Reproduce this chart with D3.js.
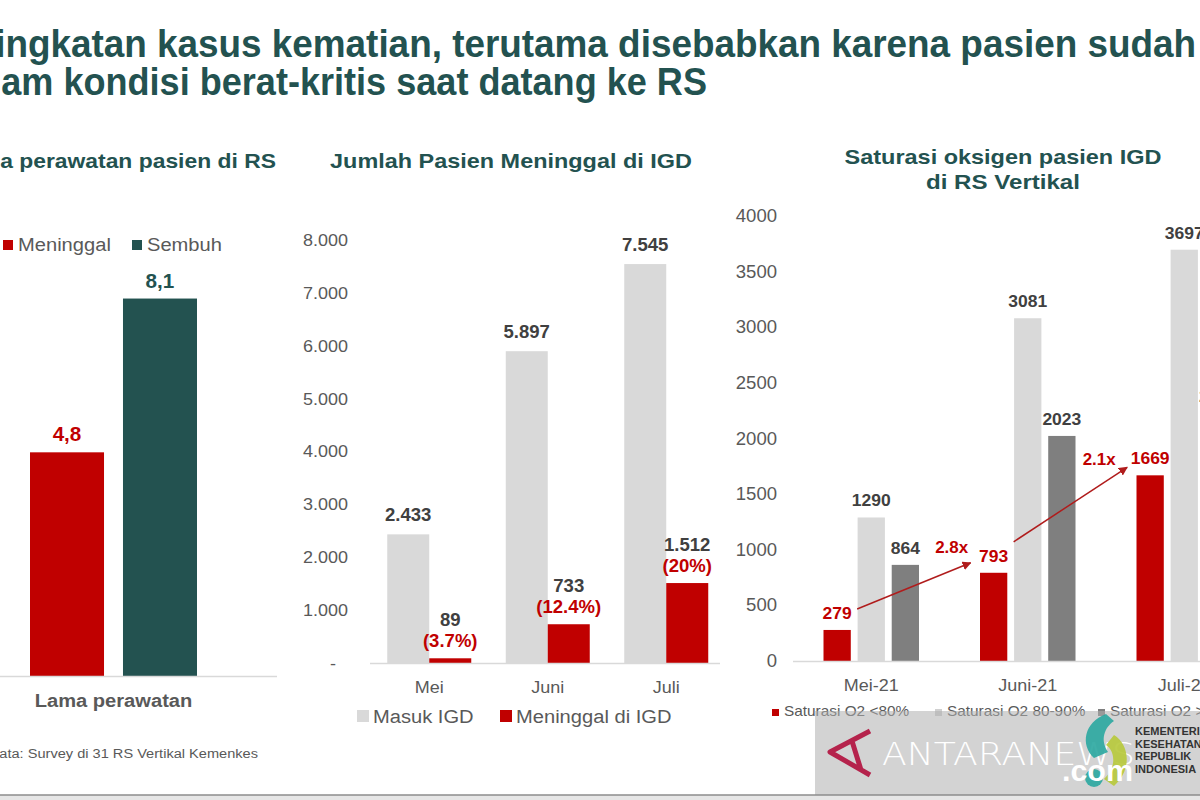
<!DOCTYPE html>
<html><head><meta charset="utf-8">
<script src="https://cdn.jsdelivr.net/npm/d3@7"></script>
<style>
html,body{margin:0;padding:0;background:#fff;}
svg{display:block;font-family:"Liberation Sans",Arial,sans-serif;}
</style></head>
<body>
<svg id="c" width="1200" height="800"></svg>
<script>
// ---------- DATA ----------
const titleLines = ["Peningkatan kasus kematian, terutama disebabkan karena pasien sudah", "dalam kondisi berat-kritis saat datang ke RS"];

const lamaTitle = "Lama perawatan pasien di RS";
const lamaSeries = ["Meninggal", "Sembuh"];
const lamaValues = [4.8, 8.1];
const lamaLabels = ["4,8", "8,1"];
const lamaCategory = "Lama perawatan";

const igdTitle = "Jumlah Pasien Meninggal di IGD";
const igdMonths = ["Mei", "Juni", "Juli"];
const igdSeries = ["Masuk IGD", "Meninggal di IGD"];
const masukIGD = [2433, 5897, 7545];
const meninggalIGD = [89, 733, 1512];
const meninggalPct = ["(3.7%)", "(12.4%)", "(20%)"];
const igdTicks = [0, 1000, 2000, 3000, 4000, 5000, 6000, 7000, 8000];

const satTitle = ["Saturasi oksigen pasien IGD", "di RS Vertikal"];
const satMonths = ["Mei-21", "Juni-21", "Juli-21"];
const satSeries = ["Saturasi O2 <80%", "Saturasi O2 80-90%", "Saturasi O2 >90%"];
const satLow = [279, 793, 1669];
const satMid = [1290, 3081, 3697];
const satHigh = [864, 2023, 2229];
const satTicks = [0, 500, 1000, 1500, 2000, 2500, 3000, 3500, 4000];
const growthLabels = ["2.8x", "2.1x"];

const sourceText = "Sumber data: Survey di 31 RS Vertikal Kemenkes";

// ---------- STYLE ----------
const RED = "#C00000", TEAL = "#235250", LGRAY = "#D9D9D9", DGRAY = "#7F7F7F";
const TXT = "#404040", AX = "#595959", ARROW = "#B01C1C";
const svg = d3.select("#c");
const idLocale = d3.formatLocale({decimal: ",", thousands: ".", grouping: [3], currency: ["", ""]});
const fmtDot = idLocale.format(",");

// horizontal stretch helpers (fit a text's visible part to the width it has in the reference)
function stretchEl(el, k) {
  const t = d3.select(el);
  const x = +t.attr("x") || 0;
  t.attr("transform", `translate(${x * (1 - k)},0) scale(${k},1)`);
}
function fitSub(sel, sub, target) {
  sel.classed("fit", true);
  const el = sel.node();
  const full = sel.text();
  sel.text(sub);
  const w = el.getComputedTextLength();
  sel.text(full);
  stretchEl(el, target / w);
}

// ---------- MAIN TITLE ----------
const t1 = svg.append("text").attr("x", 1196).attr("y", 57).attr("text-anchor", "end")
  .attr("font-weight", "bold").attr("font-size", 38).attr("fill", TEAL).text(titleLines[0]);
fitSub(t1, titleLines[0].slice(3), 1201);
const t2 = svg.append("text").attr("x", 707).attr("y", 95).attr("text-anchor", "end")
  .attr("font-weight", "bold").attr("font-size", 38).attr("fill", TEAL).text(titleLines[1]);
fitSub(t2, titleLines[1].slice(2), 716);

// ---------- PANEL 1 ----------
{
  const g = svg.append("g");
  const tt = g.append("text").attr("x", 276).attr("y", 168).attr("text-anchor", "end")
    .attr("font-weight", "bold").attr("font-size", 19.5).attr("fill", TEAL).text(lamaTitle);
  fitSub(tt, lamaTitle.slice(3), 276);
  const y = d3.scaleLinear().domain([0, 10]).range([676, 210]);
  const x = d3.scaleBand().domain(lamaSeries).range([30, 197]).paddingInner(0.204).paddingOuter(0);
  const col = d3.scaleOrdinal().domain(lamaSeries).range([RED, TEAL]);
  g.selectAll("rect.bar").data(lamaSeries).join("rect").attr("class", "bar")
    .attr("x", d => x(d)).attr("width", x.bandwidth())
    .attr("y", (d, i) => y(lamaValues[i])).attr("height", (d, i) => y(0) - y(lamaValues[i]))
    .attr("fill", d => col(d));
  g.selectAll("text.val").data(lamaSeries).join("text").attr("class", "val")
    .attr("x", d => x(d) + x.bandwidth() / 2).attr("y", (d, i) => y(lamaValues[i]) - 11)
    .attr("text-anchor", "middle").attr("font-weight", "bold").attr("font-size", 19.5)
    .attr("fill", d => col(d)).text((d, i) => lamaLabels[i]);
  g.append("line").attr("x1", 0).attr("x2", 277).attr("y1", y(0) + 0.5).attr("y2", y(0) + 0.5)
    .attr("stroke", LGRAY).attr("stroke-width", 1.5);
  g.append("text").attr("x", (x.range()[0] + x.range()[1]) / 2).attr("y", 707).attr("text-anchor", "middle")
    .attr("font-weight", "bold").attr("font-size", 19).attr("fill", AX).text(lamaCategory);
  // legend
  const lx = [3, 132];
  lamaSeries.forEach((s, i) => {
    g.append("rect").attr("x", lx[i]).attr("y", 240).attr("width", 10).attr("height", 10).attr("fill", col(s));
    g.append("text").attr("x", lx[i] + 15).attr("y", 251).attr("font-size", 19).attr("fill", AX).text(s);
  });
  const src = g.append("text").attr("x", 258).attr("y", 758).attr("text-anchor", "end")
    .attr("font-size", 13.5).attr("fill", AX).text(sourceText);
  fitSub(src, sourceText.slice(8), 259);
}

// ---------- PANEL 2 ----------
{
  const g = svg.append("g");
  const tt = g.append("text").attr("x", 511).attr("y", 168).attr("text-anchor", "middle")
    .attr("font-weight", "bold").attr("font-size", 19.5).attr("fill", TEAL).text(igdTitle);
  fitSub(tt, igdTitle, 362);
  const y = d3.scaleLinear().domain([0, 8000]).range([663, 240]);
  const x0 = d3.scaleBand().domain(igdMonths).range([370, 725.5]).padding(0);
  const x1 = d3.scaleBand().domain(igdSeries).range([17.25, 101.25]).padding(0);
  const col = d3.scaleOrdinal().domain(igdSeries).range([LGRAY, RED]);
  const ax = g.append("g").attr("transform", "translate(348,0)")
    .call(d3.axisLeft(y).tickValues(igdTicks).tickSize(0).tickPadding(0)
      .tickFormat(d => d === 0 ? "-" : fmtDot(d)));
  ax.select(".domain").remove();
  ax.selectAll("text").attr("font-size", 17).attr("fill", AX).attr("font-family", "'Liberation Sans',Arial,sans-serif");
  ax.selectAll(".tick").filter(d => d === 0).select("text").attr("x", -12);

  const rows = igdMonths.map((m, i) => ({m, vals: [masukIGD[i], meninggalIGD[i]], pct: meninggalPct[i]}));
  const grp = g.selectAll("g.grp").data(rows).join("g").attr("class", "grp")
    .attr("transform", d => `translate(${x0(d.m)},0)`);
  grp.selectAll("rect").data(d => igdSeries.map((s, j) => ({s, v: d.vals[j]}))).join("rect")
    .attr("x", d => x1(d.s)).attr("width", x1.bandwidth())
    .attr("y", d => y(d.v)).attr("height", d => y(0) - y(d.v)).attr("fill", d => col(d.s));
  grp.append("text").attr("x", x1(igdSeries[0]) + x1.bandwidth() / 2).attr("y", d => y(d.vals[0]) - 13)
    .attr("text-anchor", "middle").attr("font-weight", "bold").attr("font-size", 17.5).attr("fill", TXT)
    .text(d => fmtDot(d.vals[0]));
  grp.append("text").attr("x", x1(igdSeries[1]) + x1.bandwidth() / 2).attr("y", d => y(d.vals[1]) - 32)
    .attr("text-anchor", "middle").attr("font-weight", "bold").attr("font-size", 17.5).attr("fill", TXT)
    .text(d => fmtDot(d.vals[1]));
  grp.append("text").attr("x", x1(igdSeries[1]) + x1.bandwidth() / 2).attr("y", d => y(d.vals[1]) - 11)
    .attr("text-anchor", "middle").attr("font-weight", "bold").attr("font-size", 17.5).attr("fill", RED)
    .text(d => d.pct);
  g.append("line").attr("x1", 370).attr("x2", 720).attr("y1", y(0) + 0.5).attr("y2", y(0) + 0.5)
    .attr("stroke", LGRAY).attr("stroke-width", 1.5);
  const bx = g.append("g").attr("transform", `translate(0,${y(0)})`)
    .call(d3.axisBottom(x0).tickSize(0).tickPadding(18));
  bx.select(".domain").remove();
  bx.selectAll("text").attr("font-size", 17).attr("fill", AX).attr("font-family", "'Liberation Sans',Arial,sans-serif");
  // legend
  const lx = [357, 500];
  igdSeries.forEach((s, i) => {
    g.append("rect").attr("x", lx[i]).attr("y", 710).attr("width", 12).attr("height", 12).attr("fill", col(s));
    g.append("text").attr("x", lx[i] + 16).attr("y", 723).attr("font-size", 19).attr("fill", AX).text(s);
  });
}

// ---------- PANEL 3 ----------
{
  const g = svg.append("g");
  const tw = [317, 154];
  satTitle.forEach((t, i) => {
    const tt = g.append("text").attr("x", 1003).attr("y", 164 + i * 25).attr("text-anchor", "middle")
      .attr("font-weight", "bold").attr("font-size", 19.5).attr("fill", TEAL).text(t);
    fitSub(tt, t, tw[i]);
  });
  const y = d3.scaleLinear().domain([0, 4000]).range([661, 216]);
  const x0 = d3.scaleBand().domain(satMonths).range([793, 1262.5]).padding(0);
  const x1 = d3.scaleBand().domain(satSeries).range([30.5, 126]).paddingInner(0.2).paddingOuter(0);
  const col = d3.scaleOrdinal().domain(satSeries).range([RED, LGRAY, DGRAY]);
  const labCol = d3.scaleOrdinal().domain(satSeries).range([RED, TXT, TXT]);
  const ax = g.append("g").attr("transform", "translate(777,0)")
    .call(d3.axisLeft(y).tickValues(satTicks).tickSize(0).tickPadding(0).tickFormat(d3.format("d")));
  ax.select(".domain").remove();
  ax.selectAll("text").attr("font-size", 17.5).attr("fill", AX).attr("font-family", "'Liberation Sans',Arial,sans-serif");

  const rows = satMonths.map((m, i) => ({m, vals: [satLow[i], satMid[i], satHigh[i]]}));
  const grp = g.selectAll("g.grp").data(rows).join("g").attr("class", "grp")
    .attr("transform", d => `translate(${x0(d.m)},0)`);
  const cells = d => satSeries.map((s, j) => ({s, v: d.vals[j]}));
  grp.selectAll("rect").data(cells).join("rect")
    .attr("x", d => x1(d.s)).attr("width", x1.bandwidth())
    .attr("y", d => y(d.v)).attr("height", d => y(0) - y(d.v)).attr("fill", d => col(d.s));
  grp.selectAll("text.v").data(cells).join("text").attr("class", "v")
    .attr("x", d => x1(d.s) + x1.bandwidth() / 2).attr("y", d => y(d.v) - 11)
    .attr("text-anchor", "middle").attr("font-weight", "bold").attr("font-size", 16.5)
    .attr("fill", d => labCol(d.s)).text(d => d.v);
  g.append("line").attr("x1", 793).attr("x2", 1200).attr("y1", y(0) + 0.5).attr("y2", y(0) + 0.5)
    .attr("stroke", LGRAY).attr("stroke-width", 1.5);
  const bx = g.append("g").attr("transform", `translate(0,${y(0)})`)
    .call(d3.axisBottom(x0).tickSize(0).tickPadding(18));
  bx.select(".domain").remove();
  bx.selectAll("text").attr("font-size", 17).attr("fill", AX).attr("font-family", "'Liberation Sans',Arial,sans-serif");

  // growth arrows
  const defs = svg.append("defs");
  defs.append("marker").attr("id", "ah").attr("viewBox", "0 0 10 10").attr("refX", 9).attr("refY", 5)
    .attr("markerWidth", 6).attr("markerHeight", 6).attr("orient", "auto")
    .append("path").attr("d", "M0,0L10,5L0,10z").attr("fill", ARROW);
  const redC = i => x0(satMonths[i]) + x1(satSeries[0]) + x1.bandwidth() / 2;
  const startDy = [21, 31], endDy = [10, 8], labDx = [19, 28], labDy = [20, 10];
  for (let i = 0; i < 2; i++) {
    const sx = redC(i) + 20, sy = y(satLow[i]) - startDy[i];
    const ex = redC(i + 1) - 23, ey = y(satLow[i + 1]) - endDy[i];
    g.append("line").attr("x1", sx).attr("y1", sy).attr("x2", ex).attr("y2", ey)
      .attr("stroke", ARROW).attr("stroke-width", 1.5).attr("marker-end", "url(#ah)");
    g.append("text").attr("x", ex - labDx[i]).attr("y", y(satLow[i + 1]) - labDy[i])
      .attr("text-anchor", "middle").attr("font-weight", "bold").attr("font-size", 16).attr("fill", RED)
      .text(growthLabels[i]);
  }
  // legend
  const lx = [772, 935, 1098];
  const sqCol = [RED, "#D0D0D0", DGRAY];
  satSeries.forEach((s, i) => {
    g.append("rect").attr("x", lx[i]).attr("y", 709).attr("width", 7).attr("height", 7).attr("fill", sqCol[i]);
    g.append("text").attr("x", lx[i] + 12).attr("y", 716).attr("font-size", 14.5).attr("fill", AX).text(s);
  });
}

// slight horizontal widening of body text, as in the reference
svg.selectAll("text:not(.fit)").each(function () { stretchEl(this, 1.06); });

// ---------- WATERMARK / FOOTER ----------
{
  const w = svg.append("g");
  w.append("rect").attr("x", 815).attr("y", 711).attr("width", 385).attr("height", 84)
    .attr("fill", "rgba(175,175,175,0.55)");
  w.append("path").attr("d", "M870,731 L830,752 L870,775 M852,741 L861,770")
    .attr("fill", "none").attr("stroke", "#B5234C").attr("stroke-width", 5).attr("stroke-linejoin", "round");
  w.append("text").attr("x", 882).attr("y", 765).attr("font-size", 32).attr("font-weight", "200")
    .attr("font-family", "'DejaVu Sans',sans-serif").attr("fill", "#fff")
    .attr("textLength", 253).attr("lengthAdjust", "spacingAndGlyphs").text("ANTARANEWS");
  w.append("path").attr("d", "M1106,714 C1084,722 1080,745 1094,758 L1108,752 C1100,740 1104,728 1114,721 Z")
    .attr("fill", "#2AA7A0").attr("opacity", 0.9);
  w.append("path").attr("d", "M1114,735 C1130,745 1132,770 1114,786 L1104,779 C1116,768 1116,752 1106,745 Z")
    .attr("fill", "#B7C93A").attr("opacity", 0.9);
  w.append("circle").attr("cx", 1094).attr("cy", 778).attr("r", 9).attr("fill", "#2AA7A0").attr("opacity", 0.9);
  w.append("text").attr("x", 1062).attr("y", 781).attr("font-size", 29).attr("font-weight", "bold")
    .attr("fill", "#fff").attr("textLength", 71).attr("lengthAdjust", "spacingAndGlyphs").text(".com");
  ["KEMENTERIAN", "KESEHATAN", "REPUBLIK", "INDONESIA"].forEach((t, i) => {
    w.append("text").attr("x", 1135).attr("y", 735 + i * 12.7).attr("font-size", 11).attr("font-weight", "bold")
      .attr("fill", "#333").text(t);
  });
  svg.append("rect").attr("x", 0).attr("y", 795).attr("width", 1200).attr("height", 5).attr("fill", "#E6E6E6");
  svg.append("line").attr("x1", 0).attr("x2", 1200).attr("y1", 795).attr("y2", 795).attr("stroke", "#8C8C8C").attr("stroke-width", 1.5);
}
</script>
</body></html>
